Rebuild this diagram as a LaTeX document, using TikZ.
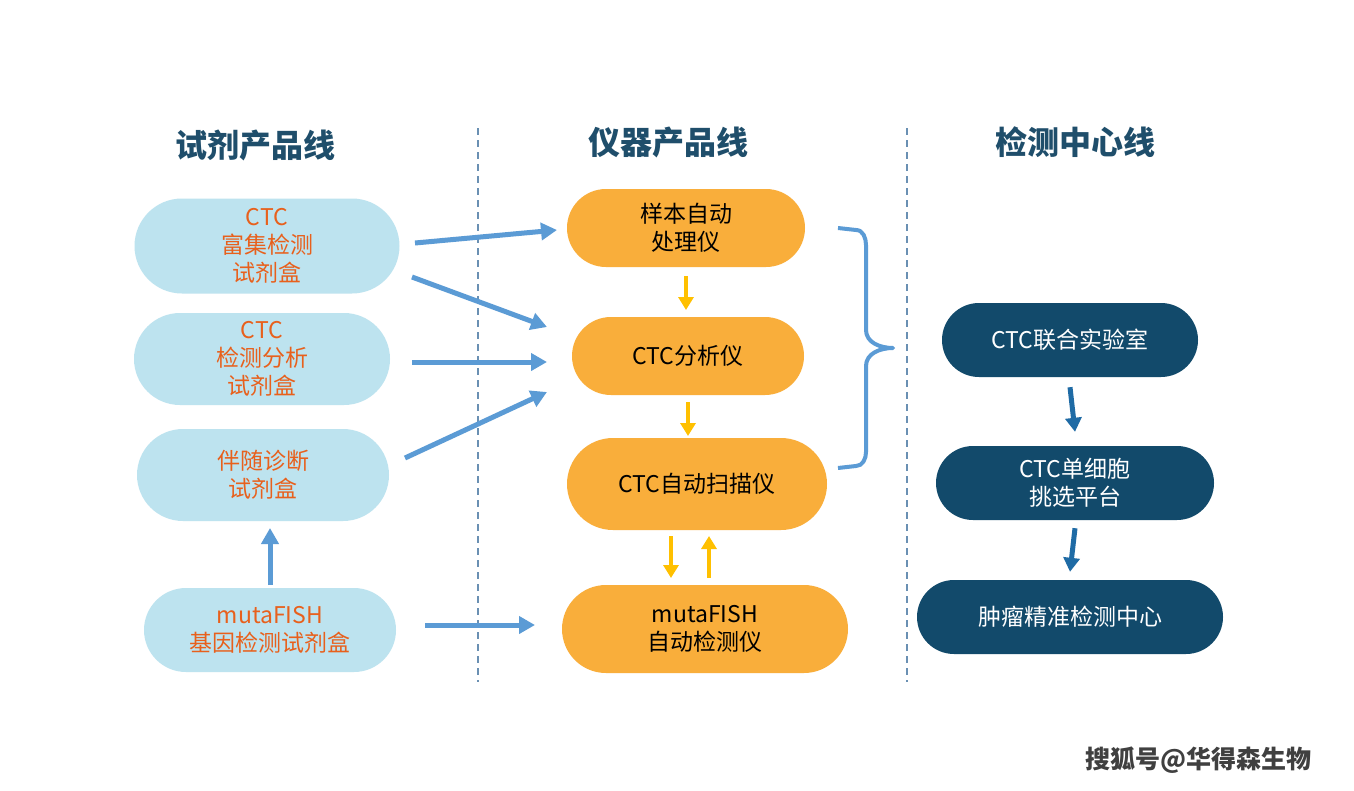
\documentclass[tikz,border=0pt]{standalone}
\usepackage{fontspec}
\setmainfont{Noto Sans CJK SC}
\usetikzlibrary{arrows.meta,shapes.misc}
\definecolor{lblue}{HTML}{BDE3EF}
\definecolor{ltxt}{HTML}{E8601C}
\definecolor{mora}{HTML}{F9AE3B}
\definecolor{rdark}{HTML}{124A6B}
\definecolor{head}{HTML}{1F4E6B}
\definecolor{abl}{HTML}{5B9BD5}
\definecolor{ayl}{HTML}{FFC000}
\definecolor{adk}{HTML}{1F6BA5}
\tikzset{
  pill/.style={rounded rectangle,align=center,font=\fontsize{23}{28}\selectfont,inner sep=0pt},
  reag/.style={pill,fill=lblue,text=ltxt},
  inst/.style={pill,fill=mora,text=black},
  cent/.style={pill,fill=rdark,text=white},
  hd/.style={font=\fontsize{32}{36}\selectfont\bfseries,text=head},
  barr/.style={abl,line width=5pt,-{Triangle[length=16pt,width=17pt]}},
  yarr/.style={ayl,line width=4.5pt,-{Triangle[length=13pt,width=15pt]}},
  darr/.style={adk,line width=5pt,-{Triangle[length=14pt,width=16pt]}},
}
\begin{document}
\begin{tikzpicture}[x=1pt,y=-1pt]
\useasboundingbox[fill=white] (0,0) rectangle (1354,790);
% headers
\node[hd] (h1) at (255,145) {试剂产品线};
\node[hd] (h2) at (668,142) {仪器产品线};
\node[hd] (h3) at (1075,142) {检测中心线};
% separators
\draw[abl!60!gray,line width=1.2pt,dash pattern=on 7pt off 5pt] (478,128) -- (478,682);
\draw[abl!60!gray,line width=1.2pt,dash pattern=on 7pt off 5pt] (907,128) -- (907,682);
% reagent line
\node[reag,minimum width=265pt,minimum height=95pt] (l1) at (267,246) {CTC\\富集检测\\试剂盒};
\node[reag,minimum width=256pt,minimum height=92pt] (l2) at (262,359) {CTC\\检测分析\\试剂盒};
\node[reag,minimum width=252pt,minimum height=92pt] (l3) at (263,475) {伴随诊断\\试剂盒};
\node[reag,minimum width=252pt,minimum height=84pt] (l4) at (270,630) {mutaFISH\\基因检测试剂盒};
% instrument line
\node[inst,minimum width=238pt,minimum height=78pt] (m1) at (686,228) {样本自动\\处理仪};
\node[inst,minimum width=232pt,minimum height=78pt] (m2) at (688,356) {CTC分析仪};
\node[inst,minimum width=260pt,minimum height=92pt] (m3) at (697,484) {CTC自动扫描仪};
\node[inst,minimum width=286pt,minimum height=88pt] (m4) at (705,629) {mutaFISH\\自动检测仪};
% center line
\node[cent,minimum width=256pt,minimum height=74pt] (r1) at (1070,340) {CTC联合实验室};
\node[cent,minimum width=278pt,minimum height=74pt] (r2) at (1075,483) {CTC单细胞\\挑选平台};
\node[cent,minimum width=306pt,minimum height=74pt] (r3) at (1070,617) {肿瘤精准检测中心};
% blue arrows
\coordinate (a1) at (415,243); \coordinate (b1) at (557,230);
\coordinate (a2) at (412,277); \coordinate (b2) at (547,327);
\coordinate (a3) at (412,362); \coordinate (b3) at (547,362);
\coordinate (a4) at (405,458); \coordinate (b4) at (547,392);
\coordinate (a5) at (425,625); \coordinate (b5) at (535,625);
\coordinate (a6) at (270,585); \coordinate (b6) at (270,528);
\draw[barr] (a1) -- (b1);
\draw[barr] (a2) -- (b2);
\draw[barr] (a3) -- (b3);
\draw[barr] (a4) -- (b4);
\draw[barr] (a5) -- (b5);
\draw[barr] (a6) -- (b6);
% yellow arrows
\coordinate (y1) at (686,276); \coordinate (y2) at (686,310);
\coordinate (y3) at (688,402); \coordinate (y4) at (688,436);
\coordinate (y5) at (671,536); \coordinate (y6) at (671,578);
\coordinate (y7) at (709,578); \coordinate (y8) at (709,536);
\draw[yarr] (y1) -- (y2);
\draw[yarr] (y3) -- (y4);
\draw[yarr] (y5) -- (y6);
\draw[yarr] (y7) -- (y8);
% dark arrows
\draw[darr] ([yshift=-10pt]r1.south) -- ([yshift=14pt]r2.north);
\draw[darr] ([yshift=-8pt]r2.south) -- ([yshift=8pt]r3.north);
% brace
\draw[abl,line width=4pt,line join=round] (838,228) -- (856,230) to[out=0,in=90] (866,245) -- (866,330)
  to[out=-90,in=180] (893,348) to[out=180,in=90] (866,366) -- (866,452) to[out=-90,in=0] (856,466) -- (838,468);
% watermark
\node[font=\fontsize{25}{28}\selectfont\bfseries,text=black!75] (wm) at (1198,760) {搜狐号@华得森生物};
\end{tikzpicture}
\end{document}
